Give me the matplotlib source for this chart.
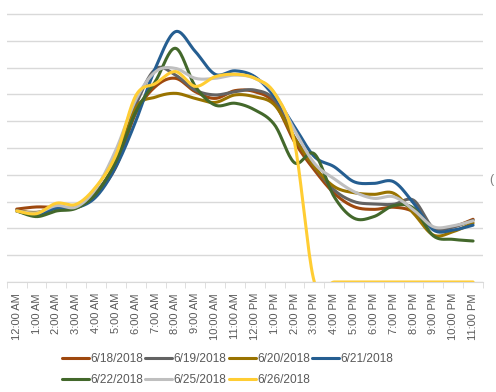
import numpy as np
import matplotlib.pyplot as plt

hours = ['12:00 AM', '1:00 AM', '2:00 AM', '3:00 AM', '4:00 AM', '5:00 AM', '6:00 AM',
         '7:00 AM', '8:00 AM', '9:00 AM', '10:00 AM', '11:00 AM', '12:00 PM', '1:00 PM',
         '2:00 PM', '3:00 PM', '4:00 PM', '5:00 PM', '6:00 PM', '7:00 PM', '8:00 PM',
         '9:00 PM', '10:00 PM', '11:00 PM']

d0618 = [2.72, 2.80, 2.78, 2.78, 3.30, 4.30, 6.30, 7.30, 7.60, 7.10, 6.85, 7.14,
         7.10, 6.67, 5.23, 4.18, 3.31, 2.81, 2.71, 2.79, 2.62, 2.00, 2.06, 2.34]
d0619 = [2.65, 2.58, 2.80, 2.78, 3.35, 4.50, 6.60, 7.95, 7.72, 7.16, 6.98, 7.10,
         7.16, 6.79, 5.40, 4.30, 3.43, 3.00, 2.91, 2.90, 3.05, 2.02, 2.06, 2.30]
d0620 = [2.65, 2.60, 2.75, 2.78, 3.30, 4.50, 6.50, 6.90, 7.04, 6.85, 6.70, 6.98,
         6.91, 6.60, 5.37, 4.30, 3.56, 3.33, 3.27, 3.31, 2.56, 1.75, 1.88, 2.20]
d0621 = [2.65, 2.50, 2.75, 2.77, 3.18, 4.30, 6.00, 8.00, 9.34, 8.60, 7.75, 7.88,
         7.66, 6.91, 5.80, 4.68, 4.30, 3.74, 3.68, 3.74, 2.94, 1.94, 1.94, 2.12]
d0622 = [2.65, 2.44, 2.65, 2.75, 3.30, 4.50, 6.35, 7.50, 8.72, 7.30, 6.60, 6.67,
         6.42, 5.86, 4.45, 4.78, 3.18, 2.38, 2.44, 2.85, 2.75, 1.72, 1.59, 1.53]
d0625 = [2.65, 2.58, 2.85, 2.80, 3.50, 4.93, 6.80, 7.85, 7.97, 7.60, 7.60, 7.72,
         7.60, 7.04, 5.67, 4.43, 3.85, 3.37, 3.12, 3.18, 2.69, 2.06, 2.10, 2.28]
d0626 = [2.65, 2.55, 2.94, 2.90, 3.56, 4.74, 6.95, 7.41, 7.85, 7.30, 7.66, 7.75,
         7.60, 7.04, 5.20, 0, 0, 0, 0, 0, 0, 0, 0, 0]

labels = ['6/18/2018', '6/19/2018', '6/20/2018', '6/21/2018', '6/22/2018', '6/25/2018', '6/26/2018']
series = [d0618, d0619, d0620, d0621, d0622, d0625, d0626]
colors = ['#9E480E', '#636363', '#997300', '#255E91', '#43682B', '#BFBFBF', '#FFCD33']


# excel style smoothed line (bezier through the points)
def smooth(y, n=20):
    pts = np.column_stack([np.arange(len(y)), y]).astype(float)
    ext = np.vstack([pts[0], pts, pts[-1]])
    out = []
    t = np.linspace(0, 1, n)[:, None]
    for i in range(len(pts) - 1):
        p0, p1, p2, p3 = ext[i], ext[i + 1], ext[i + 2], ext[i + 3]
        c1 = p1 + (p2 - p0) / 6
        c2 = p2 - (p3 - p1) / 6
        seg = (1 - t)**3 * p1 + 3 * (1 - t)**2 * t * c1 + 3 * (1 - t) * t**2 * c2 + t**3 * p2
        out.append(seg if i == 0 else seg[1:])
    return np.vstack(out)


plt.rcParams['font.family'] = ['Liberation Sans', 'DejaVu Sans']

fig = plt.figure(figsize=(4.96, 3.92), dpi=100)
ax = fig.add_axes([6.8 / 496, 110 / 392, (483 - 6.8) / 496, (282 - 11.3) / 392])

handles = []
for vals, lab, col in zip(series, labels, colors):
    s = smooth(vals)
    h, = ax.plot(s[:, 0], s[:, 1], color=col, lw=2.2, label=lab, solid_capstyle='round')
    handles.append(h)

ax.set_xlim(-0.5, 23.5)
ax.set_ylim(0, 10.1)
ax.set_yticks(np.arange(0, 11))
ax.set_yticklabels([])
ax.tick_params(axis='y', length=0)
ax.grid(axis='y', color='#D9D9D9', lw=1)
ax.set_axisbelow(True)

ax.set_xticks(np.arange(24))
ax.set_xticklabels(hours, rotation=90, fontsize=8, color='#595959')
ax.set_xticks(np.arange(-0.5, 24), minor=True)
ax.tick_params(axis='x', which='major', length=0, pad=8)
ax.tick_params(axis='x', which='minor', length=4, color='#D9D9D9')

for sp in ['left', 'right', 'top']:
    ax.spines[sp].set_visible(False)
ax.spines['bottom'].set_color('#D9D9D9')

order = [0, 4, 1, 5, 2, 6, 3]
fig.legend([handles[i] for i in order], [labels[i] for i in order], ncol=4,
           loc='upper left', bbox_to_anchor=(62 / 496, 1 - 353 / 392),
           frameon=False, fontsize=8.6, handlelength=2.26, handletextpad=0.1,
           columnspacing=0.2, labelspacing=0.75, borderpad=0, borderaxespad=0,
           labelcolor='#595959')

fig.text(489 / 496, 1 - 180 / 392, '(', color='#7F7F7F', fontsize=9, va='center')

fig.savefig('out.png', dpi=100)
